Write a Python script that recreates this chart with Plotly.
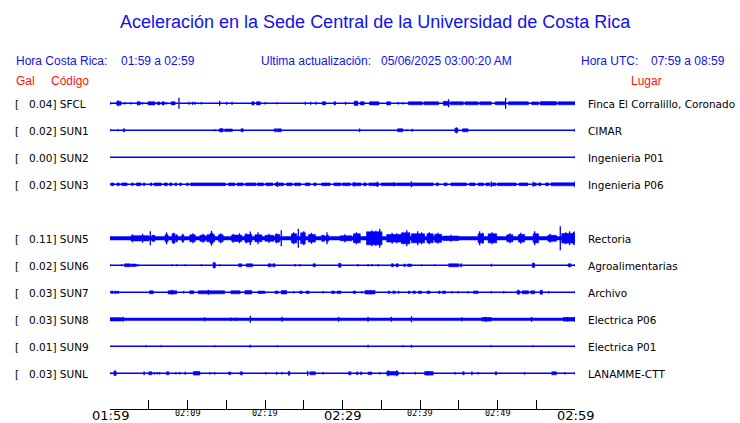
import plotly.graph_objects as go

# ---------------- data ----------------
TITLE = "Aceleración en la Sede Central de la Universidad de Costa Rica"
HORA_CR = "01:59 a 02:59"
HORA_UTC = "07:59 a 08:59"
ULTIMA = "05/06/2025 03:00:20 AM"

CODES = ["SFCL", "SUN1", "SUN2", "SUN3", "SUN5", "SUN6", "SUN7", "SUN8", "SUN9", "SUNL"]
PEAK_GAL = [0.04, 0.02, 0.00, 0.02, 0.11, 0.02, 0.03, 0.03, 0.01, 0.03]
PLACES = ["Finca El Corralillo, Coronado", "CIMAR", "Ingenieria P01", "Ingenieria P06",
          "Rectoria", "Agroalimentarias", "Archivo", "Electrica P06", "Electrica P01", "LANAMME-CTT"]

TICK_MINUTES = [0, 5, 10, 15, 20, 25, 30, 35, 40, 45, 50, 55, 60]
LABEL_MINUTES = [0, 10, 20, 30, 40, 50, 60]
LABEL_TEXT = ["01:59", "02:09", "02:19", "02:29", "02:39", "02:49", "02:59"]
LABEL_MAJOR = [True, False, False, True, False, False, True]

# baseline half-amplitude (relative display units) per station
BASE_AMP = [0.6, 0.6, 0.6, 0.6, 1.7, 0.6, 0.6, 1.3, 0.6, 0.6]

# envelope bursts: (start minute, end minute, half amplitude)
SFCL_BLOCKS = [(0.85, 1.45, 1.8), (3.5, 3.9, 1.6), (4.9, 5.8, 1.6), (6.1, 6.45, 1.4), (6.7, 7.0, 1.6),
               (7.9, 8.4, 1.6), (18.3, 18.6, 1.6), (18.9, 19.4, 1.6), (27.4, 27.8, 1.6), (28.9, 29.1, 1.6),
               (31.5, 32.0, 2.0), (32.3, 32.8, 1.6), (33.5, 34.7, 1.6), (35.7, 36.2, 1.6), (38.5, 40.3, 1.5),
               (40.5, 42.4, 1.5), (43.0, 43.7, 2.0), (43.9, 45.6, 1.5), (45.8, 47.5, 1.5), (47.7, 49.2, 1.5),
               (49.7, 51.0, 1.5), (51.4, 54.0, 1.5), (54.4, 55.3, 1.4), (55.5, 57.6, 1.7), (57.8, 60.0, 1.5)]
SFCL_SPIKES = [(0.0, 1.5), (1.08, 3.0), (1.9, 1.2), (2.7, 1.2), (4.2, 1.2), (7.25, 1.2), (8.9, 5.5),
               (10.2, 1.5), (10.65, 1.5), (10.95, 1.5), (11.8, 1.2), (14.15, 2.5), (15.05, 1.5), (15.75, 1.5),
               (20.0, 1.2), (21.5, 1.0), (25.2, 1.5), (25.9, 1.5), (26.6, 1.5), (30.4, 1.5), (31.7, 2.5),
               (37.2, 1.2), (37.8, 1.2), (43.7, 4.0), (51.05, 5.5), (60.0, 1.5)]

SUN1_BLOCKS = [(1.7, 1.9, 1.5), (14.1, 14.6, 1.5), (14.8, 15.8, 1.3), (16.9, 17.2, 1.5), (21.2, 21.5, 1.5),
               (21.6, 22.1, 1.5), (37.1, 37.8, 1.5), (44.5, 44.9, 2.0), (45.5, 46.2, 1.5)]
SUN1_SPIKES = [(0.0, 1.2), (1.05, 1.0), (13.5, 1.0), (14.4, 2.0), (32.2, 1.8), (38.3, 1.0), (39.0, 1.5),
               (44.7, 3.0), (60.0, 1.5)]

SUN2_BLOCKS = []
SUN2_SPIKES = [(60.0, 1.0)]

SUN3_BLOCKS = [(0.2, 0.5, 1.4), (0.9, 1.2, 1.4), (1.5, 2.2, 1.4), (2.8, 3.0, 1.4), (3.4, 4.0, 1.4),
               (4.3, 4.5, 1.4), (5.2, 5.4, 1.4), (5.7, 6.6, 1.4), (7.0, 7.4, 1.4), (7.7, 8.0, 1.4),
               (8.4, 8.6, 1.4), (9.0, 9.2, 1.4), (9.9, 10.1, 1.4), (10.4, 14.9, 1.4), (15.3, 16.1, 1.4),
               (16.4, 17.2, 1.4), (17.5, 18.8, 1.4), (19.0, 19.8, 1.4), (20.1, 21.0, 1.4), (21.3, 22.4, 1.4),
               (22.8, 23.5, 1.4), (23.8, 24.6, 1.4), (25.2, 25.8, 1.4), (26.3, 26.6, 1.4), (27.3, 28.4, 1.4),
               (28.9, 29.8, 1.4), (30.0, 31.0, 1.4), (31.3, 32.4, 1.4), (32.7, 33.1, 1.4), (33.4, 34.7, 1.4),
               (35.0, 36.9, 1.4), (37.0, 41.7, 1.4), (42.1, 42.4, 1.4), (43.1, 43.5, 1.4), (44.0, 46.0, 1.4),
               (46.4, 47.1, 1.4), (47.5, 48.2, 1.4), (48.5, 49.0, 1.4), (49.3, 49.8, 1.4), (50.0, 52.4, 1.4),
               (52.8, 53.9, 1.4), (54.6, 55.0, 1.4), (55.3, 55.6, 1.4), (56.2, 56.6, 1.4), (56.9, 60.0, 1.5)]
SUN3_SPIKES = [(0.0, 1.5), (21.6, 2.7), (31.5, 2.2), (34.5, 2.7), (36.6, 2.0), (38.9, 3.0), (49.2, 2.7),
               (54.6, 2.5), (60.0, 3.0)]

SUN5_BLOCKS = [(2.7, 5.0, 2.6), (5.4, 5.8, 3.0), (7.1, 7.5, 3.5), (8.0, 8.4, 4.5), (8.5, 8.7, 3.5),
               (9.25, 9.55, 3.0), (10.3, 11.0, 3.5), (11.6, 12.3, 3.0), (12.5, 13.5, 3.5), (12.9, 13.3, 5.0),
               (14.0, 14.6, 3.5), (15.7, 17.0, 3.2), (17.4, 18.3, 3.8), (18.7, 19.6, 3.5), (20.0, 21.1, 3.0),
               (21.3, 21.9, 3.8), (23.4, 24.1, 4.5), (24.6, 25.2, 5.5), (25.6, 26.5, 3.8), (27.3, 27.7, 3.0),
               (27.9, 28.2, 3.0), (29.7, 31.2, 2.5), (31.4, 32.3, 4.5), (33.1, 35.1, 6.5), (35.7, 37.6, 3.8),
               (37.6, 38.7, 5.5), (38.9, 40.6, 4.5), (40.9, 41.7, 4.5), (41.9, 42.8, 4.0), (43.0, 45.0, 2.2),
               (47.5, 48.2, 4.5), (48.8, 49.9, 4.5), (51.2, 52.0, 3.5), (52.7, 53.5, 3.8), (54.6, 55.3, 4.5),
               (56.5, 57.6, 3.0), (58.3, 60.0, 4.8)]
SUN5_SPIKES = [(2.9, 4.0), (4.2, 4.5), (5.2, 7.0), (7.3, 6.0), (8.2, 5.5), (9.4, 4.5), (10.7, 5.0),
               (12.0, 4.5), (13.1, 7.5), (14.3, 5.0), (15.9, 4.5), (16.7, 5.0), (17.6, 5.0), (18.1, 6.8),
               (19.1, 6.0), (20.5, 4.5), (21.5, 5.0), (22.1, 8.0), (23.7, 6.0), (24.3, 9.5), (25.0, 7.0),
               (26.0, 5.5), (28.0, 6.0), (30.3, 4.0), (31.8, 6.0), (33.8, 8.0), (34.3, 7.5), (34.8, 9.5),
               (36.4, 5.5), (37.0, 5.0), (38.3, 8.0), (39.7, 7.0), (40.2, 6.0), (41.2, 6.0), (42.3, 5.5),
               (44.0, 3.5), (47.7, 7.0), (48.1, 5.5), (49.3, 6.0), (51.6, 5.0), (53.0, 5.5), (54.8, 7.0),
               (56.8, 4.5), (58.1, 12.0), (58.8, 6.0), (59.3, 7.0), (59.8, 6.5), (60.0, 7.0)]

SUN6_BLOCKS = [(1.9, 2.6, 1.5), (2.7, 3.4, 1.3), (13.3, 13.6, 2.5), (16.6, 17.0, 1.5), (17.6, 18.4, 1.5),
               (20.4, 20.8, 1.5), (21.0, 21.3, 1.5), (26.2, 26.5, 1.5), (29.5, 29.8, 2.0), (36.3, 36.6, 1.5),
               (36.9, 37.2, 1.5), (37.9, 38.1, 1.3), (38.4, 38.9, 1.3), (43.7, 45.0, 1.5), (45.2, 45.4, 1.5),
               (54.5, 54.8, 2.0), (59.1, 59.5, 1.5)]
SUN6_SPIKES = [(0.0, 1.0), (1.5, 1.0), (3.65, 1.0), (8.0, 1.0), (8.6, 1.0), (9.7, 1.0), (11.8, 1.0),
               (13.4, 3.0), (14.2, 1.0), (23.9, 1.3), (24.5, 1.3), (32.0, 1.2), (33.3, 1.2), (33.8, 1.2),
               (34.6, 1.2), (40.2, 1.0), (41.9, 1.0), (49.2, 1.5), (54.6, 2.5), (60.0, 1.2)]

SUN7_BLOCKS = [(0.2, 0.4, 1.3), (0.6, 0.8, 1.3), (0.95, 1.1, 1.3), (5.1, 5.6, 1.5), (7.5, 8.6, 1.6),
               (10.3, 10.8, 1.5), (11.4, 14.8, 1.5), (15.6, 16.8, 1.5), (17.4, 18.3, 1.7), (19.1, 20.0, 1.2),
               (21.3, 21.7, 1.3), (22.1, 22.8, 1.7), (24.5, 24.8, 1.3), (25.3, 25.7, 1.3), (28.6, 29.0, 1.3),
               (29.3, 29.8, 1.3), (31.4, 31.7, 1.3), (32.9, 34.2, 1.7), (35.9, 36.1, 1.3), (36.5, 36.8, 1.3),
               (37.2, 37.3, 1.3), (38.5, 38.7, 1.3), (39.1, 39.4, 1.3), (39.8, 40.2, 1.3), (40.9, 41.3, 1.3),
               (42.4, 42.6, 1.3), (42.9, 43.3, 1.3), (46.9, 47.5, 1.3), (52.5, 52.9, 1.5), (53.2, 54.0, 1.5),
               (54.3, 54.8, 1.5), (55.5, 55.8, 2.0)]
SUN7_SPIKES = [(0.0, 1.3), (8.0, 2.5), (9.5, 1.2), (12.7, 2.5), (23.7, 1.2), (27.5, 1.2), (32.5, 1.2),
               (33.6, 2.0), (44.1, 1.2), (44.9, 1.2), (46.2, 1.2), (49.2, 1.2), (50.8, 1.2), (52.7, 2.5),
               (56.6, 1.2), (60.0, 1.3)]

SUN8_BLOCKS = [(0.0, 1.5, 1.6), (48.0, 49.2, 1.8), (58.5, 60.0, 1.8)]
SUN8_SPIKES = [(1.7, 2.5), (12.2, 2.0), (15.6, 1.8), (16.3, 1.8), (18.1, 3.5), (22.2, 2.5), (29.5, 2.5),
               (33.3, 2.5), (36.3, 2.5), (38.9, 3.0), (45.4, 2.0), (48.5, 2.5), (54.4, 2.5), (59.0, 2.3),
               (60.0, 2.5)]

SUN9_BLOCKS = []
SUN9_SPIKES = [(4.6, 1.0), (6.6, 1.0), (13.5, 1.0), (18.1, 1.5), (21.6, 1.0), (33.3, 1.5), (37.8, 1.0),
               (38.9, 1.5), (49.2, 1.0), (54.6, 1.0), (60.0, 1.0)]

SUNL_BLOCKS = [(0.5, 0.8, 2.0), (5.0, 5.4, 1.5), (7.3, 7.6, 1.5), (10.75, 11.6, 1.8), (15.3, 15.6, 1.3),
               (16.8, 17.1, 1.5), (23.0, 23.2, 2.0), (25.8, 26.5, 1.5), (30.8, 31.1, 1.5), (31.8, 32.0, 1.3),
               (32.3, 32.5, 1.3), (33.3, 33.8, 1.3), (35.7, 37.2, 1.8), (40.6, 41.7, 1.8), (45.5, 45.7, 1.5),
               (49.7, 49.9, 1.5), (57.0, 57.6, 1.5)]
SUNL_SPIKES = [(0.0, 1.3), (0.65, 2.8), (4.4, 2.0), (5.7, 1.3), (6.1, 1.3), (6.4, 1.3), (8.5, 1.3),
               (9.0, 1.3), (9.7, 1.5), (12.9, 1.3), (13.5, 1.3), (20.1, 1.3), (21.5, 1.5), (22.2, 1.3),
               (25.5, 2.5), (27.5, 1.3), (34.8, 1.3), (35.9, 3.0), (37.0, 3.0), (37.8, 1.3), (39.4, 1.3),
               (41.0, 2.2), (44.5, 1.3), (46.7, 2.0), (47.5, 1.3), (53.5, 1.3), (58.7, 1.3), (60.0, 1.3)]

BLOCKS = [SFCL_BLOCKS, SUN1_BLOCKS, SUN2_BLOCKS, SUN3_BLOCKS, SUN5_BLOCKS,
          SUN6_BLOCKS, SUN7_BLOCKS, SUN8_BLOCKS, SUN9_BLOCKS, SUNL_BLOCKS]
SPIKES = [SFCL_SPIKES, SUN1_SPIKES, SUN2_SPIKES, SUN3_SPIKES, SUN5_SPIKES,
          SUN6_SPIKES, SUN7_SPIKES, SUN8_SPIKES, SUN9_SPIKES, SUNL_SPIKES]

# ---------------- layout ----------------
W, H = 740, 423
X0, X1 = 110, 575          # pixel extent of the time axis
AXIS_Y = 409               # pixel row of the time axis
ROW0, ROW_GAP = 103.3, 27.0
ROW_SLOTS = [0, 1, 2, 3, 5, 6, 7, 8, 9, 10]   # one blank slot between SUN3 and SUN5

BLUE = "#0000ff"
TXT_BLUE = "#1010f0"
RED = "#ff1010"
SANS = "Liberation Sans, Arial, sans-serif"
DJV = "DejaVu Sans, sans-serif"
LBL = 10.5

fig = go.Figure()

for i, code in enumerate(CODES):
    yc = ROW0 + ROW_GAP * ROW_SLOTS[i]
    b = BASE_AMP[i]
    if b > 0.8:
        fig.add_trace(go.Scatter(x=[0, 60, 60, 0, 0], y=[yc - b, yc - b, yc + b, yc + b, yc - b],
                                 mode="lines", fill="toself", fillcolor=BLUE,
                                 line=dict(color=BLUE, width=0.5), hoverinfo="skip"))
    else:
        fig.add_trace(go.Scatter(x=[0, 60], y=[yc, yc], mode="lines",
                                 line=dict(color=BLUE, width=2 * b + 0.3), hoverinfo="skip"))
    if BLOCKS[i]:
        xs, ys = [], []
        for t0, t1, a in BLOCKS[i]:
            xs += [t0, t1, t1, t0, t0, None]
            ys += [yc - a, yc - a, yc + a, yc + a, yc - a, None]
        fig.add_trace(go.Scatter(x=xs, y=ys, mode="lines", fill="toself", fillcolor=BLUE,
                                 line=dict(color=BLUE, width=0.6), hoverinfo="skip"))
    if SPIKES[i]:
        xs, ys = [], []
        for t, a in SPIKES[i]:
            xs += [t, t, None]
            ys += [yc - a, yc + a, None]
        fig.add_trace(go.Scatter(x=xs, y=ys, mode="lines",
                                 line=dict(color=BLUE, width=1.3), hoverinfo="skip"))

ann = []


def text(x, y, s, color="black", size=11, family=DJV, xanchor="left", yref="y"):
    ann.append(dict(x=x / W, y=y, xref="paper", yref=yref, text=s, showarrow=False,
                    xanchor=xanchor, yanchor="middle", borderpad=0,
                    font=dict(color=color, size=size, family=family)))


text(375, 22, TITLE, color=TXT_BLUE, size=18, family=SANS, xanchor="center")
text(15, 61, "Hora Costa Rica:", color=TXT_BLUE, size=12, family=SANS)
text(120, 61, HORA_CR, color=TXT_BLUE, size=12, family=SANS)
text(260, 61, "Ultima actualización:", color=TXT_BLUE, size=12, family=SANS)
text(380, 61, ULTIMA, color=TXT_BLUE, size=12, family=SANS)
text(580, 61, "Hora UTC:", color=TXT_BLUE, size=12, family=SANS)
text(650, 61, HORA_UTC, color=TXT_BLUE, size=12, family=SANS)
text(15, 80.5, "Gal", color=RED, size=12, family=SANS)
text(50, 80.5, "Código", color=RED, size=12, family=SANS)
text(646, 80.5, "Lugar", color=RED, size=12, family=SANS, xanchor="center")

for i, code in enumerate(CODES):
    yc = ROW0 + ROW_GAP * ROW_SLOTS[i]
    text(14, yc + 0.5, "[", size=LBL)
    text(27.5, yc + 0.5, f"{PEAK_GAL[i]:.2f}] {code}", size=LBL)
    text(587, yc + 0.5, PLACES[i], size=LBL)

for m, lab, major in zip(LABEL_MINUTES, LABEL_TEXT, LABEL_MAJOR):
    if major:
        ann.append(dict(x=m, y=(H - 415) / H, xref="x", yref="paper", text=lab, showarrow=False,
                        xanchor="center", yanchor="middle",
                        font=dict(color="black", size=13, family=DJV)))
    else:
        ann.append(dict(x=m, y=(H - 413) / H, xref="x", yref="paper", text=lab, showarrow=False,
                        xanchor="center", yanchor="middle",
                        font=dict(color="black", size=8.5, family="DejaVu Sans Mono, monospace")))

fig.update_layout(
    width=W, height=H, autosize=False,
    margin=dict(l=0, r=0, t=0, b=0, pad=0),
    paper_bgcolor="white", plot_bgcolor="white",
    showlegend=False,
    annotations=ann,
    xaxis=dict(domain=[X0 / W, X1 / W], range=[0, 60], showgrid=False, zeroline=False,
               showline=True, linecolor="black", linewidth=1, ticks="inside", ticklen=9,
               tickcolor="black", tickwidth=1, tickvals=TICK_MINUTES, showticklabels=False,
               fixedrange=True),
    yaxis=dict(domain=[(H - AXIS_Y) / H, 1], range=[AXIS_Y, 0], visible=False, fixedrange=True),
)

fig.write_html("out.html", config={"displayModeBar": False},
               post_script="document.body.style.margin='0';document.body.style.overflow='hidden';")
